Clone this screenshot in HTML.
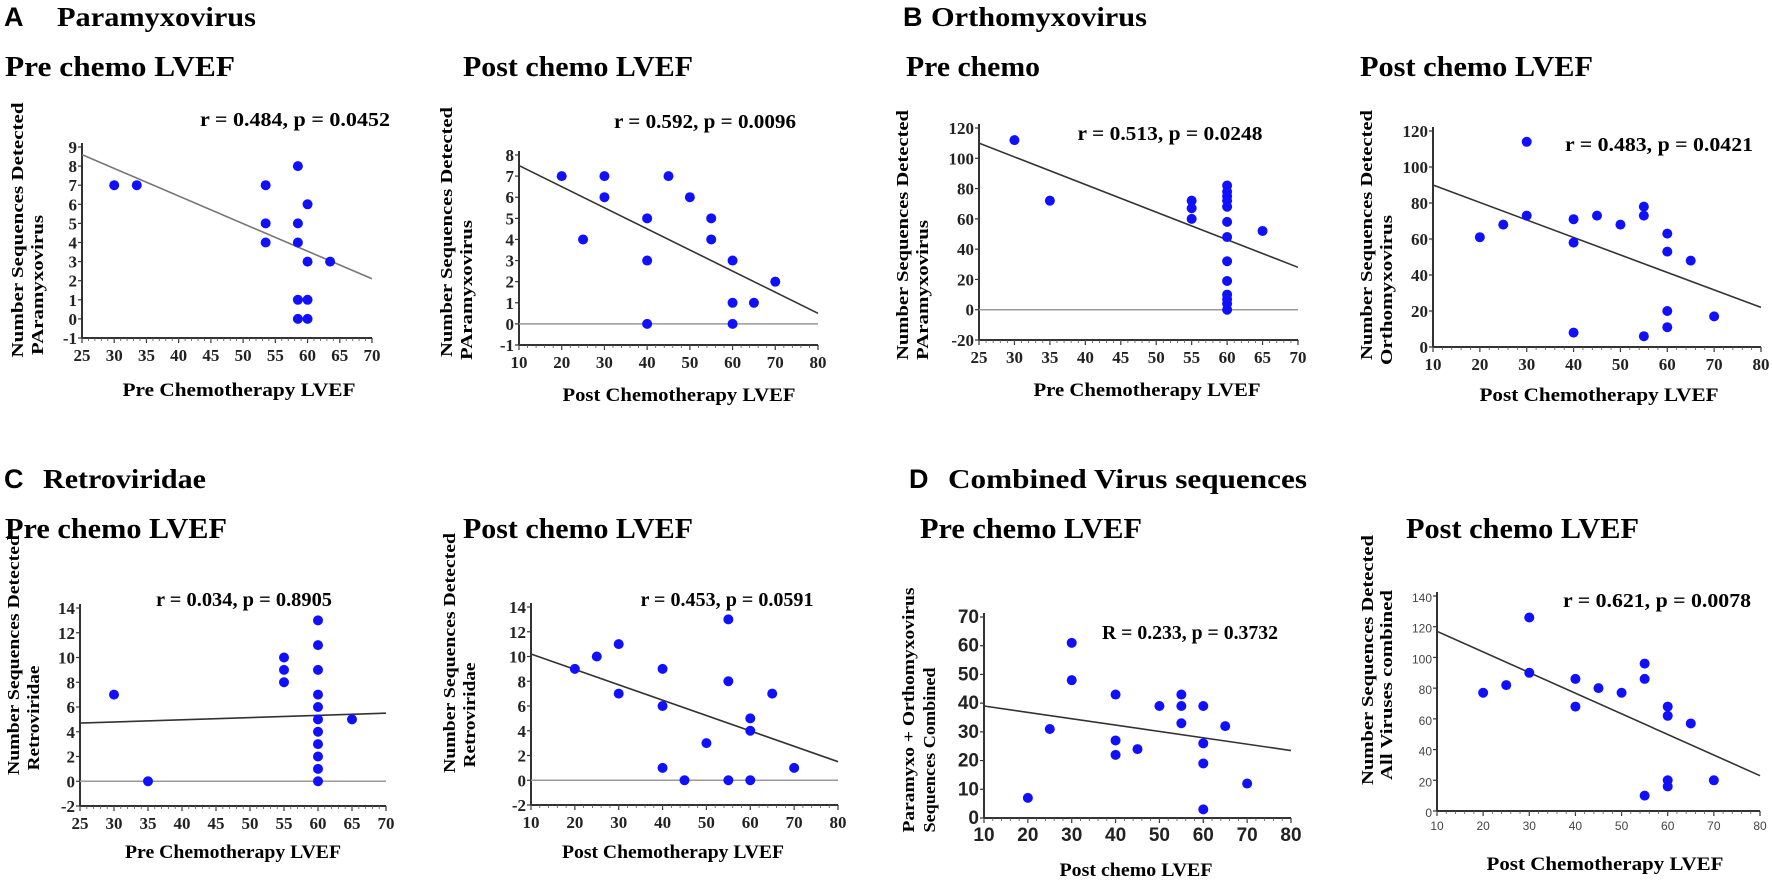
<!DOCTYPE html>
<html><head><meta charset="utf-8"><style>
html,body{margin:0;padding:0;background:#fff;width:1772px;height:881px;overflow:hidden}
svg{display:block}
</style></head><body>
<svg id="s" width="1772" height="881" xmlns="http://www.w3.org/2000/svg" font-family="Liberation Serif, serif" font-weight="bold">
<text x="4" y="26" font-size="27" font-family="Liberation Sans, sans-serif">A</text>
<text x="57" y="26" font-size="27" textLength="199" lengthAdjust="spacingAndGlyphs">Paramyxovirus</text>
<text x="5" y="76" font-size="28" textLength="230" lengthAdjust="spacingAndGlyphs">Pre chemo  LVEF</text>
<text x="463" y="76" font-size="28" textLength="230" lengthAdjust="spacingAndGlyphs">Post chemo LVEF</text>
<text x="903" y="26" font-size="27" font-family="Liberation Sans, sans-serif">B</text>
<text x="931" y="26" font-size="27" textLength="216" lengthAdjust="spacingAndGlyphs">Orthomyxovirus</text>
<text x="906" y="76" font-size="28" textLength="134" lengthAdjust="spacingAndGlyphs">Pre chemo</text>
<text x="1360" y="76" font-size="28" textLength="233" lengthAdjust="spacingAndGlyphs">Post chemo LVEF</text>
<text x="4" y="488" font-size="27" font-family="Liberation Sans, sans-serif">C</text>
<text x="43" y="488" font-size="27" textLength="163" lengthAdjust="spacingAndGlyphs">Retroviridae</text>
<text x="5" y="538" font-size="28" textLength="222" lengthAdjust="spacingAndGlyphs">Pre chemo LVEF</text>
<text x="463" y="538" font-size="28" textLength="230" lengthAdjust="spacingAndGlyphs">Post chemo LVEF</text>
<text x="909" y="488" font-size="27" font-family="Liberation Sans, sans-serif">D</text>
<text x="948" y="488" font-size="27" textLength="359" lengthAdjust="spacingAndGlyphs">Combined  Virus sequences</text>
<text x="920" y="538" font-size="28" textLength="222" lengthAdjust="spacingAndGlyphs">Pre chemo LVEF</text>
<text x="1406" y="538" font-size="28" textLength="233" lengthAdjust="spacingAndGlyphs">Post chemo LVEF</text>
</svg>
<script>
var S=document.getElementById('s'),NS='http://www.w3.org/2000/svg';
function el(t,a,txt){var e=document.createElementNS(NS,t);for(var k in a)e.setAttribute(k,a[k]);if(txt!=null)e.textContent=txt;S.appendChild(e);return e;}
function panel(p){
 var X=function(v){return p.x0+(v-p.xmin)/(p.xmax-p.xmin)*(p.x1-p.x0)};
 var Y=function(v){return p.y0+(v-p.ymin)/(p.ymax-p.ymin)*(p.y1-p.y0)};
 var yb=Y(p.ymin),yt=Y(p.ymax);
 el('line',{x1:p.x0,y1:yt-4,x2:p.x0,y2:yb,stroke:'#333','stroke-width':2});
 el('line',{x1:p.x0,y1:yb,x2:p.x1,y2:yb,stroke:'#333','stroke-width':2});
 var fs=p.tfs||17,ff=p.tff||'Liberation Serif, serif',tc=p.tc||'#222',xo=p.xo||23;
 for(var v=p.xmin;v<=p.xmax+1e-9;v+=p.xs){
  el('line',{x1:X(v),y1:yb,x2:X(v),y2:yb+5,stroke:'#333','stroke-width':1.2});
  el('text',{x:X(v),y:yb+xo,'font-size':fs,'text-anchor':'middle','font-family':ff,fill:tc,'font-weight':p.tw||'bold'},String(v));
 }
 for(var v=p.xmin;v<p.xmax;v+=p.xs/5){el('line',{x1:X(v),y1:yb,x2:X(v),y2:yb+3,stroke:'#555','stroke-width':0.8});}
 for(var v=p.ymin;v<=p.ymax+1e-9;v+=p.ys){
  el('line',{x1:p.x0-4,y1:Y(v),x2:p.x0,y2:Y(v),stroke:'#333','stroke-width':1.2});
  el('text',{x:p.x0-5,y:Y(v)+6,'font-size':fs,'text-anchor':'end','font-family':ff,fill:tc,'font-weight':p.tw||'bold'},String(v));
 }
 if(p.zero) el('line',{x1:p.x0,y1:Y(0),x2:p.x1,y2:Y(0),stroke:'#999','stroke-width':1.5});
 el('line',{x1:X(p.xmin),y1:Y(p.r[0]),x2:X(p.xmax),y2:Y(p.r[1]),stroke:p.rc||'#333','stroke-width':1.6});
 p.pts.forEach(function(q){el('circle',{cx:X(q[0]),cy:Y(q[1]),r:5,fill:'#1010ff'});});
 el('text',{x:p.ax,y:p.ay,'font-size':20,'text-anchor':'middle',textLength:p.aw,lengthAdjust:'spacingAndGlyphs'},p.ann);
 el('text',{x:0,y:0,'font-size':17,'text-anchor':'middle',transform:'translate('+(p.yl1x)+','+p.ylm+') rotate(-90)',textLength:p.ylw1,lengthAdjust:'spacingAndGlyphs'},p.yl1);
 el('text',{x:0,y:0,'font-size':17,'text-anchor':'middle',transform:'translate('+(p.yl2x)+','+p.ylm2+') rotate(-90)',textLength:p.ylw2,lengthAdjust:'spacingAndGlyphs'},p.yl2);
 el('text',{x:p.xlx,y:p.xly,'font-size':19,'text-anchor':'middle',textLength:p.xlw,lengthAdjust:'spacingAndGlyphs'},p.xl);
}
panel({x0:82,x1:372,xmin:25,xmax:70,xs:5,y0:338,y1:147,ymin:-1,ymax:9,ys:1,r:[8.6,2.1],rc:'#777',
 pts:[[30,7],[33.5,7],[53.5,7],[53.5,5],[53.5,4],[58.5,8],[58.5,5],[58.5,4],[60,6],[60,3],[63.5,3],[58.5,1],[60,1],[58.5,0],[60,0]],
 ann:'r  = 0.484, p = 0.0452',ax:295,ay:126,aw:190,yl1:'Number Sequences Detected',yl1x:23,yl2:'PAramyxovirus',yl2x:43,ylm:230,ylm2:285,ylw1:255,ylw2:140,
 xl:'Pre Chemotherapy LVEF',xlx:239,xly:396,xlw:233});
panel({x0:519,x1:818,xmin:10,xmax:80,xs:10,y0:345,y1:155,ymin:-1,ymax:8,ys:1,r:[7.5,0.5],zero:1,
 pts:[[20,7],[25,4],[30,7],[30,6],[40,5],[40,3],[40,0],[45,7],[50,6],[55,5],[55,4],[60,3],[60,1],[60,0],[65,1],[70,2]],
 ann:'r  = 0.592, p = 0.0096',ax:705,ay:128,aw:182,yl1:'Number Sequences Detected',yl1x:452,yl2:'PAramyxovirus',yl2x:472,ylm:232,ylm2:290,ylw1:250,ylw2:140,
 xl:'Post Chemotherapy LVEF',xlx:679,xly:401,xlw:233});
panel({x0:979,x1:1298,xmin:25,xmax:70,xs:5,y0:340,y1:128,ymin:-20,ymax:120,ys:20,r:[110,28],zero:1,
 pts:[[30,112],[35,72],[55,72],[55,67],[55,60],[60,82],[60,78],[60,75],[60,72],[60,68],[60,58],[60,48],[60,32],[60,19],[60,10],[60,7],[60,4],[60,0],[65,52]],
 ann:'r  = 0.513, p = 0.0248',ax:1170,ay:140,aw:185,yl1:'Number Sequences Detected',yl1x:908,yl2:'PAramyxovirus',yl2x:928,ylm:235,ylm2:290,ylw1:250,ylw2:140,
 xl:'Pre Chemotherapy LVEF',xlx:1147,xly:396,xlw:227});
panel({x0:1433,x1:1761,xmin:10,xmax:80,xs:10,y0:347,y1:131,ymin:0,ymax:120,ys:20,r:[90,22],
 pts:[[20,61],[25,68],[30,73],[30,114],[40,71],[40,58],[40,8],[45,73],[50,68],[55,78],[55,73],[55,6],[60,63],[60,53],[60,20],[60,11],[65,48],[70,17]],
 ann:'r  = 0.483, p = 0.0421',ax:1659,ay:151,aw:188,yl1:'Number Sequences Detected',yl1x:1372,yl2:'Orthomyxovirus',yl2x:1392,ylm:235,ylm2:290,ylw1:250,ylw2:150,
 xl:'Post Chemotherapy LVEF',xlx:1599,xly:401,xlw:239});
panel({x0:80,x1:386,xmin:25,xmax:70,xs:5,y0:806,y1:608,ymin:-2,ymax:14,ys:2,r:[4.7,5.5],zero:1,
 pts:[[30,7],[35,0],[55,10],[55,9],[55,8],[60,13],[60,11],[60,9],[60,7],[60,6],[60,5],[60,4],[60,3],[60,2],[60,1],[60,0],[65,5]],
 ann:'r  = 0.034, p = 0.8905',ax:244,ay:606,aw:176,yl1:'Number Sequences Detected',yl1x:19,yl2:'Retroviridae',yl2x:39,ylm:655,ylm2:718,ylw1:240,ylw2:105,
 xl:'Pre Chemotherapy LVEF',xlx:233,xly:858,xlw:216});
panel({x0:531,x1:838,xmin:10,xmax:80,xs:10,y0:805,y1:607,ymin:-2,ymax:14,ys:2,r:[10.2,1.5],zero:1,
 pts:[[20,9],[25,10],[30,11],[30,7],[40,9],[40,6],[40,1],[45,0],[50,3],[55,13],[55,8],[55,0],[60,5],[60,4],[60,0],[65,7],[70,1]],
 ann:'r  = 0.453, p = 0.0591',ax:727,ay:606,aw:173,yl1:'Number Sequences Detected',yl1x:455,yl2:'Retroviridae',yl2x:475,ylm:653,ylm2:715,ylw1:240,ylw2:105,
 xl:'Post Chemotherapy LVEF',xlx:673,xly:858,xlw:222});
panel({x0:984,x1:1291,xmin:10,xmax:80,xs:10,y0:818,y1:617,ymin:0,ymax:70,ys:10,r:[39,23.5],tfs:19,tff:'Liberation Sans Narrow, Liberation Sans, sans-serif',
 pts:[[20,7],[25,31],[30,61],[30,48],[40,43],[40,27],[40,22],[45,24],[50,39],[55,43],[55,39],[55,33],[60,39],[60,26],[60,19],[60,3],[65,32],[70,12]],
 ann:'R = 0.233, p = 0.3732',ax:1190,ay:639,aw:176,yl1:'Paramyxo + Orthomyxovirus',yl1x:914,yl2:'Sequences Combined',yl2x:935,ylm:710,ylm2:750,ylw1:245,ylw2:165,
 xl:'Post chemo LVEF',xlx:1136,xly:876,xlw:153});
panel({x0:1437,x1:1760,xmin:10,xmax:80,xs:10,y0:811,y1:596,ymin:0,ymax:140,ys:20,r:[117,23],tfs:12,tff:'Liberation Sans, sans-serif',tc:'#444',tw:'normal',xo:19,
 pts:[[20,77],[25,82],[30,126],[30,90],[40,86],[40,68],[45,80],[50,77],[55,96],[55,86],[55,10],[60,68],[60,62],[60,20],[60,16],[65,57],[70,20]],
 ann:'r  = 0.621, p = 0.0078',ax:1657,ay:607,aw:188,yl1:'Number Sequences Detected',yl1x:1373,yl2:'All Viruses combined',yl2x:1392,ylm:660,ylm2:685,ylw1:250,ylw2:190,
 xl:'Post Chemotherapy LVEF',xlx:1605,xly:870,xlw:237});
</script>
</body></html>
